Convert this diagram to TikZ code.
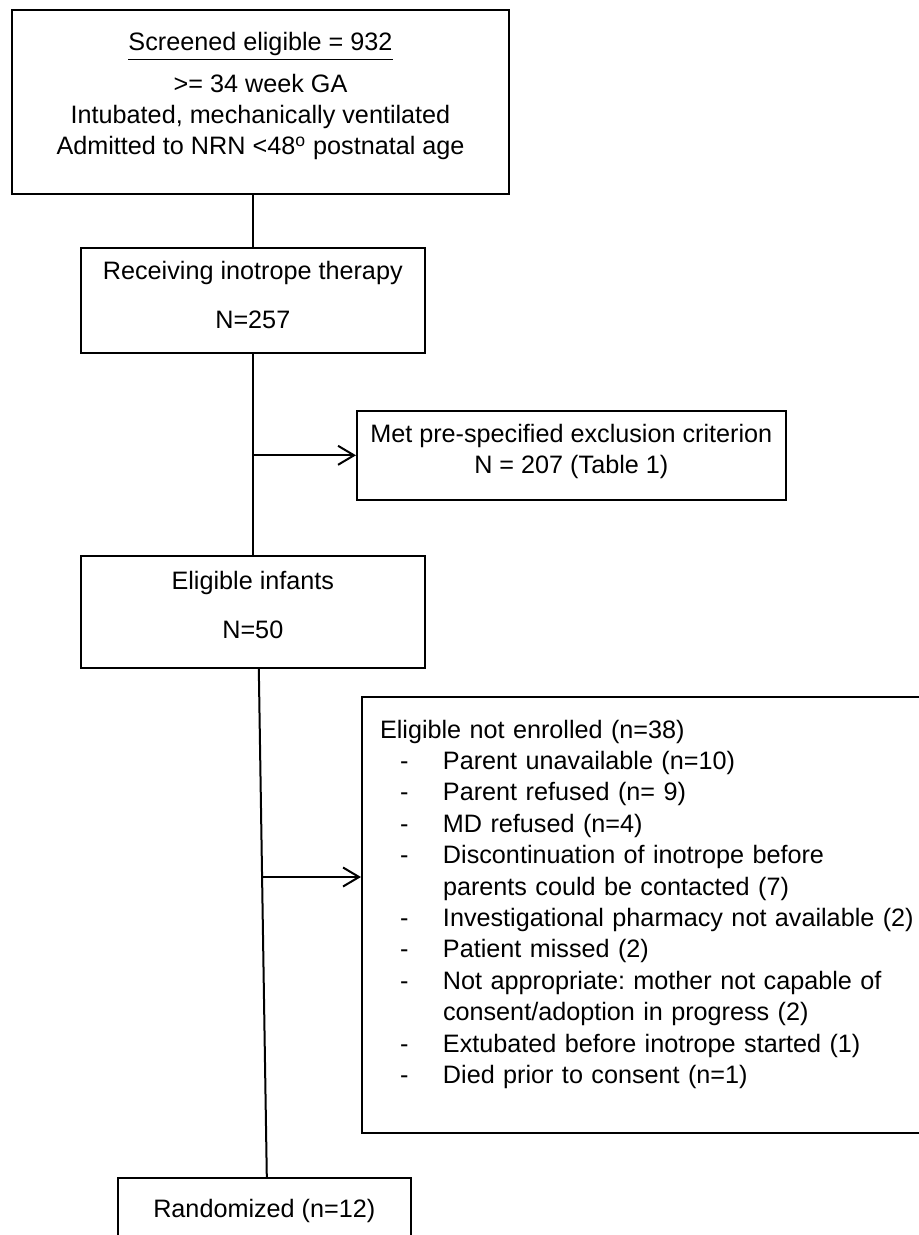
\documentclass[tikz,border=0pt]{standalone}
\usepackage{fontspec}
\setmainfont{Liberation Sans}
\usetikzlibrary{arrows.meta}
\frenchspacing
\newcommand{\dashitem}{\makebox[31.5pt][l]{\hspace{10pt}-}}
\newcommand{\contline}{\hspace*{31.5pt}}
\begin{document}
\begin{tikzpicture}[x=0.5pt,y=-0.5pt,
 every node/.style={font=\fontsize{12.6}{15.5}\selectfont},
 box/.style={draw,line width=0.8pt,inner sep=0pt,anchor=north west,align=center},
 link/.style={line width=1pt},
 arr/.style={line width=1pt,-{Straight Barb[length=8pt,width=9.5pt]}}]
 \useasboundingbox [fill=white] (0,0) rectangle (918,1235);
 % boxes down the left side
 \node [box,line width=1pt,minimum width=248.5pt] (screen) at (11,9)
  {\rule{0pt}{20.5pt}\underline{Screened eligible = 932}\\[5.5pt]
   >= 34 week GA\\
   Intubated, mechanically ventilated\\
   Admitted to NRN <48\textsuperscript{o} postnatal age\rule[-19.5pt]{0pt}{19.5pt}};
 \node [box,minimum width=172pt] (inot) at (80,247)
  {\rule{0pt}{16pt}Receiving inotrope therapy\\[9pt]N=257\rule[-12pt]{0pt}{12pt}};
 \node [box,minimum width=172pt] (elig) at (80,555)
  {\rule{0pt}{17pt}Eligible infants\\[9pt]N=50\rule[-14.5pt]{0pt}{14.5pt}};
 \node [box,minimum width=146.5pt] (rand) at (117,1177)
  {\rule{0pt}{20pt}Randomized (n=12)\rule[-14pt]{0pt}{14pt}};
 % boxes on the right
 \node [box,minimum width=214.5pt] (excl) at (356,410)
  {\rule{0pt}{16pt}Met pre-specified exclusion criterion\\N = 207 (Table 1)\rule[-13pt]{0pt}{13pt}};
 \node [box,line width=1pt,align=left,inner xsep=9pt,text width=280pt,
  font=\fontsize{12.6}{15.7}\selectfont] (ne) at (361,696)
  {\rule{0pt}{20.5pt}Eligible not enrolled (n=38)\\
   \dashitem Parent unavailable (n=10)\\
   \dashitem Parent refused (n= 9)\\
   \dashitem MD refused (n=4)\\
   \dashitem Discontinuation of inotrope before\\
   \contline parents could be contacted (7)\\
   \dashitem Investigational pharmacy not available (2)\\
   \dashitem Patient missed (2)\\
   \dashitem Not appropriate: mother not capable of\\
   \contline consent/adoption in progress (2)\\
   \dashitem Extubated before inotrope started (1)\\
   \dashitem Died prior to consent (n=1)\rule[-25pt]{0pt}{25pt}};
 % connectors
 \draw [link] (screen.south -| inot.north) -- (inot.north);
 \draw [link] (inot.south) -- (elig.north);
 \draw [arr] (inot.south |- excl.west) -- (excl.west);
 \draw [link] ([xshift=3pt]elig.south) -- ([xshift=1.25pt]rand.north);
 \coordinate (split) at (261,877);
 \draw [arr] (split) -- (split -| ne.west);
\end{tikzpicture}
\end{document}
